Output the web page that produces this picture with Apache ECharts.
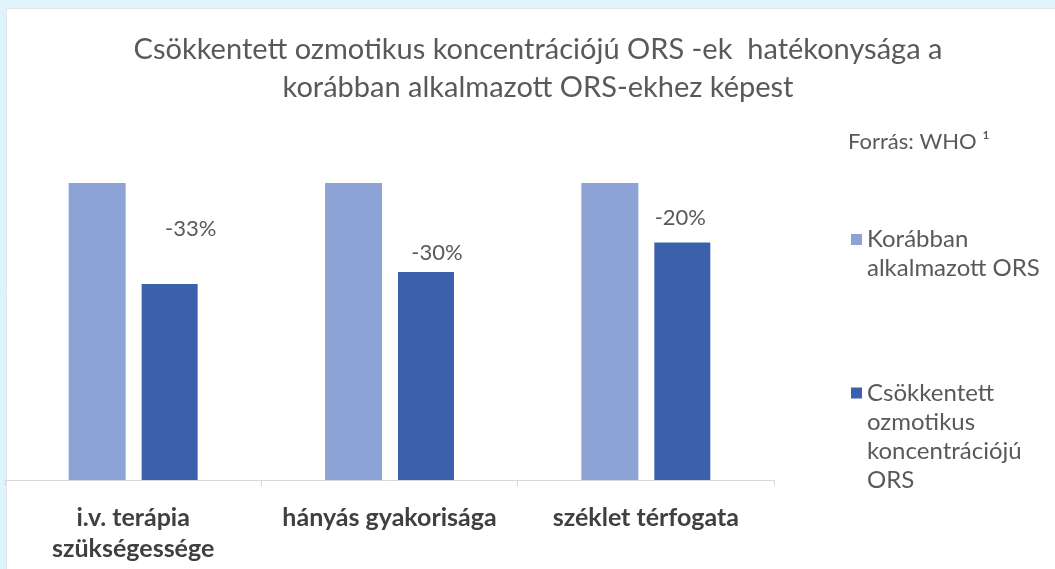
<!DOCTYPE html>
<html>
<head>
<meta charset="utf-8">
<style>
  html, body { margin: 0; padding: 0; background: #dff3fb; }
  #chart { width: 1055px; height: 569px; }
</style>
<script src="https://cdn.jsdelivr.net/npm/echarts@6/dist/echarts.min.js"></script>
</head>
<body>
<div id="chart"></div>
<script>
// ---- data ----
const categories = ['i.v. terápia\nszükségessége', 'hányás gyakorisága', 'széklet térfogata'];
const seriesNames = ['Korábban alkalmazott ORS', 'Csökkentett ozmotikus koncentrációjú ORS'];
const legendLabels = ['Korábban\nalkalmazott ORS', 'Csökkentett\nozmotikus\nkoncentrációjú\nORS'];
const previousOrs = [100, 100, 100];
const reducedOrs = [66, 70, 80];
const changeLabels = ['-33%', '-30%', '-20%'];
const titleText = 'Csökkentett ozmotikus koncentrációjú ORS -ek  hatékonysága a\nkorábban alkalmazott ORS-ekhez képest';
const sourceText = 'Forrás: WHO ¹';

// per-label placement tweaks (style only)
const labelOffsets = [[21, -44], [11, -8], [-2, -13]];

const FONT = 'Lato, "Open Sans", sans-serif';
const LEG_LH = 29;
const chart = echarts.init(document.getElementById('chart'));

// legend icon: square aligned with first text line, inside a tall item box
function iconPath(h) {
  return 'path://M0,0L0,0M0,9L11,9L11,20L0,20ZM0,' + h + 'L0,' + h;
}
function makeLegend(i, top) {
  const lines = legendLabels[i].split('\n').length;
  const h = lines * LEG_LH;
  return {
    orient: 'vertical',
    left: 851, top: top,
    padding: 0,
    itemWidth: 11, itemHeight: h,
    icon: iconPath(h),
    data: [seriesNames[i]],
    formatter: name => legendLabels[seriesNames.indexOf(name)],
    textStyle: { fontFamily: FONT, fontSize: 24, color: '#595959', lineHeight: LEG_LH }
  };
}

const option = {
  backgroundColor: '#dff3fb',
  animation: false,
  graphic: [{
    type: 'rect', z: -10, silent: true,
    shape: { x: 6.5, y: 8.5, width: 1060, height: 570 },
    style: { fill: '#ffffff', stroke: '#e3e6e8', lineWidth: 1 }
  }],
  title: [{
    text: titleText,
    left: 533, top: 26, textAlign: 'center',
    textStyle: { fontFamily: FONT, fontSize: 29, fontWeight: 'normal', color: '#595959', lineHeight: 38 }
  }, {
    text: sourceText,
    left: 843, top: 126,
    textStyle: { fontFamily: FONT, fontSize: 22, fontWeight: 'normal', color: '#595959' }
  }],
  legend: [makeLegend(0, 225), makeLegend(1, 378.5)],
  grid: { left: 5, right: 281, top: 183, bottom: 89, containLabel: false },
  xAxis: {
    type: 'category',
    data: categories,
    axisLine: { lineStyle: { color: '#d9d9d9', width: 1 } },
    axisTick: { show: true, length: 6, lineStyle: { color: '#d9d9d9' } },
    axisLabel: {
      margin: 22, interval: 0,
      fontFamily: FONT, fontSize: 25, fontWeight: 'bold', color: '#404040', lineHeight: 31
    }
  },
  yAxis: {
    type: 'value', min: 0, max: 100, show: false,
    splitLine: { show: false }
  },
  series: [{
    name: seriesNames[0],
    type: 'bar',
    data: previousOrs,
    barWidth: 57,
    barGap: '28%',
    itemStyle: { color: '#8ea3d5' }
  }, {
    name: seriesNames[1],
    type: 'bar',
    data: reducedOrs.map((v, i) => ({
      value: v,
      label: { offset: labelOffsets[i] }
    })),
    barWidth: 56,
    itemStyle: { color: '#3b61ac' },
    label: {
      show: true, position: 'top', distance: 0,
      formatter: p => changeLabels[p.dataIndex],
      fontFamily: FONT, fontSize: 22, color: '#595959'
    }
  }]
};
chart.setOption(option);
</script>
</body>
</html>
